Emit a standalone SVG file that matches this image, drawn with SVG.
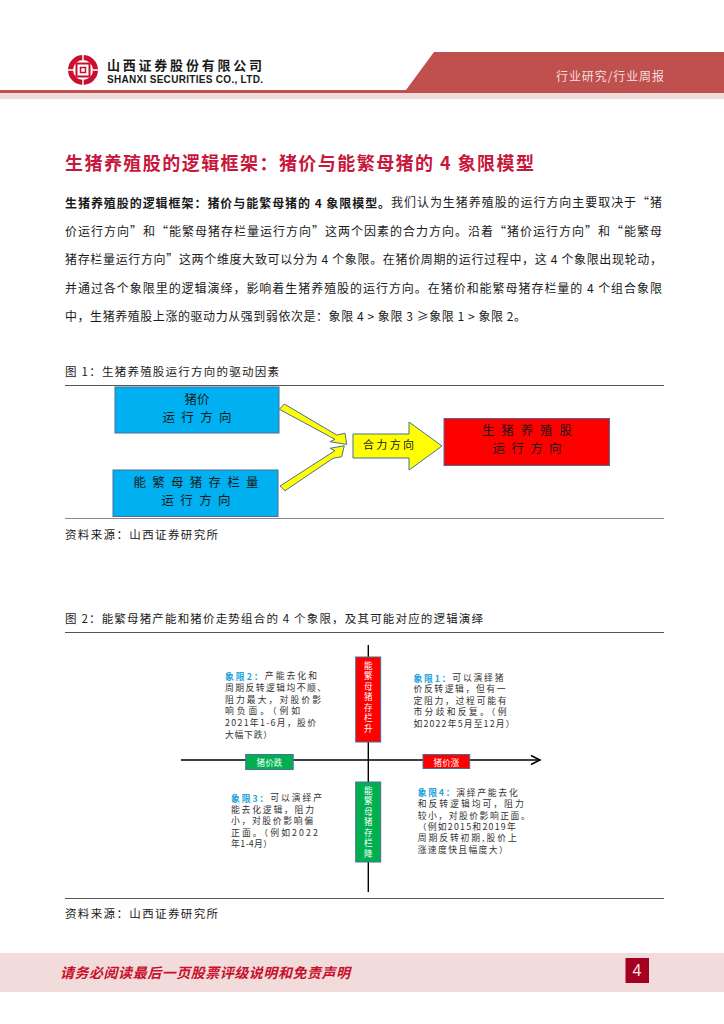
<svg xmlns="http://www.w3.org/2000/svg" width="724" height="1024" viewBox="0 0 724 1024">
<style>
text{font-family:"Noto Sans CJK SC","Liberation Sans",sans-serif;fill:#1a1a1a;dominant-baseline:central}
.body{font-size:12px}
.b{font-weight:700}
.cap{font-size:11.5px}
.q{font-size:8.8px;fill:#333}
.qh{fill:#1fa3dc;font-weight:700}
.box{stroke:#4a6f97;stroke-width:1}
.y{fill:#ff0;stroke:#4a6f97;stroke-width:1}
.rule{stroke:#555;stroke-width:1}
.big{font-size:12.500px;text-anchor:middle}
.w{fill:#fff;font-size:8.600px;text-anchor:middle}
.v{fill:#fff;font-size:8.600px;writing-mode:vertical-rl;text-orientation:upright}
.axis{stroke:#000;stroke-width:1.400;fill:none}
</style>
<defs><marker id="ah" markerUnits="userSpaceOnUse" markerWidth="12" markerHeight="12" refX="10" refY="6" orient="auto"><path d="M1 1.500L10 6L1 10.500" fill="none" stroke="#000" stroke-width="1.500"/></marker></defs>
<rect width="724" height="1024" fill="#fff"/>
<g id="header">
<rect x="0" y="93" width="724" height="6" fill="#f2dcdb"/>
<polygon points="434,52 724,52 724,93 0,93 0,90 406,90" fill="#c0504d"/>
<circle cx="83" cy="70" r="12.500" fill="none" stroke="#c8102e" stroke-width="5"/>
<path d="M83 54V60M83 80V86M67 70H73M93 70H99" stroke="#fff" stroke-width="1.500"/>
<rect x="76.500" y="63.500" width="13" height="13" fill="none" stroke="#c8102e" stroke-width="2"/>
<rect x="80.500" y="67.500" width="5" height="5" fill="none" stroke="#c8102e" stroke-width="1.500"/>
<text x="107" y="64.500" font-size="13" font-weight="700" textLength="155">山西证券股份有限公司</text>
<text x="107" y="79" font-size="10" style="font-family:'Liberation Sans',sans-serif" font-weight="700" textLength="156">SHANXI SECURITIES CO., LTD.</text>
<text x="556" y="75" font-size="12" style="fill:#f3dfde" textLength="108">行业研究/行业周报</text>
</g>
<text id="title" x="65" y="162" font-size="18" font-weight="700" style="fill:#c8173c" textLength="469">生猪养殖股的逻辑框架：猪价与能繁母猪的 4 象限模型</text>
<g id="body">
<text class="body" x="65" y="201.700" textLength="597"><tspan class="b">生猪养殖股的逻辑框架：猪价与能繁母猪的 4 象限模型。</tspan>我们认为生猪养殖股的运行方向主要取决于“猪</text>
<text class="body" x="65" y="230" textLength="597">价运行方向”和“能繁母猪存栏量运行方向”这两个因素的合力方向。沿着“猪价运行方向”和“能繁母</text>
<text class="body" x="65" y="258.600" textLength="597">猪存栏量运行方向”这两个维度大致可以分为 4 个象限。在猪价周期的运行过程中，这 4 个象限出现轮动，</text>
<text class="body" x="65" y="287" textLength="597">并通过各个象限里的逻辑演绎，影响着生猪养殖股的运行方向。在猪价和能繁母猪存栏量的 4 个组合象限</text>
<text class="body" x="65" y="315.500" textLength="461">中，生猪养殖股上涨的驱动力从强到弱依次是：象限 4 &gt; 象限 3 ≥象限 1 &gt; 象限 2。</text>
</g>
<g id="fig1">
<text class="cap" x="65" y="371" textLength="214">图 1：生猪养殖股运行方向的驱动因素</text>
<line class="rule" x1="65" y1="385.500" x2="664" y2="385.500"/>
<line x1="65" y1="518.500" x2="664" y2="518.500" stroke="#888"/>
<text class="cap" x="65" y="534" textLength="153">资料来源：山西证券研究所</text>
</g>
<g id="node-price"><rect class="box" x="115" y="387" width="164" height="46" fill="#00b0f0"/>
<text class="big" x="197" y="398">猪价</text><text class="big" x="197" y="416" textLength="69">运行方向</text></g>
<g id="node-sow"><rect class="box" x="113" y="470" width="165" height="46.500" fill="#00b0f0"/>
<text class="big" x="196" y="481" textLength="125">能繁母猪存栏量</text><text class="big" x="196" y="499" textLength="69">运行方向</text></g>
<g id="node-force"><polygon class="y" points="353,434 409,434 409,422 442,446 409,470 409,458 353,458"/>
<text x="363" y="444" font-size="11" textLength="51">合力方向</text></g>
<g id="node-stock"><rect class="box" x="444" y="418.500" width="165.500" height="47" fill="#f00"/>
<text class="big" x="527" y="429.500" textLength="90">生猪养殖股</text><text class="big" x="527" y="447.500" textLength="69">运行方向</text></g>
<g id="connectors1">
<polygon class="y" points="279.300,409.300 284.300,404 336.700,435 345,433.300 346.700,444.300 330,441.700 335,439.300"/>
<polygon class="y" points="280,486 285,490.700 333,458.300 341.700,456.700 344.300,445.700 330,448.300 335,450.700"/>
</g>
<g id="fig2">
<text class="cap" x="65" y="618" textLength="418">图 2：能繁母猪产能和猪价走势组合的 4 个象限，及其可能对应的逻辑演绎</text>
<line class="rule" x1="65" y1="632.500" x2="664" y2="632.500"/>
<line class="rule" x1="65" y1="898.500" x2="664" y2="898.500"/>
<text class="cap" x="65" y="913" textLength="153">资料来源：山西证券研究所</text>
</g>
<g id="connectors2">
<line class="axis" x1="181" y1="760" x2="540" y2="760" marker-end="url(#ah)"/>
<line class="axis" x1="368.300" y1="645" x2="368.300" y2="892"/>
</g>
<g id="node-sow-up"><rect class="box" x="355.700" y="657" width="25" height="85" fill="#f00"/>
<text class="v" x="368.300" y="661" textLength="72">能繁母猪存栏升</text></g>
<g id="node-sow-down"><rect class="box" x="355.700" y="782" width="25" height="80" fill="#00b050"/>
<text class="v" x="368.300" y="786" textLength="72">能繁母猪存栏降</text></g>
<g id="node-price-down"><rect class="box" x="245.700" y="754.500" width="47.500" height="15" fill="#00b050"/><text class="w" x="269.500" y="762">猪价跌</text></g>
<g id="node-price-up"><rect class="box" x="423" y="754.500" width="46.700" height="14" fill="#f00"/><text class="w" x="446.500" y="761.500">猪价涨</text></g>
<g id="q2">
<text class="q" x="225" y="675.700" textLength="92"><tspan class="qh">象限2：</tspan>产能去化和</text>
<text class="q" x="225" y="687.300" textLength="101">周期反转逻辑均不顺、</text>
<text class="q" x="225" y="699" textLength="96">阻力最大，对股价影</text>
<text class="q" x="225" y="710.700" textLength="75">响负面。（例如</text>
<text class="q" x="225" y="722.300" textLength="91">2021年1-6月，股价</text>
<text class="q" x="225" y="734" textLength="47">大幅下跌）</text>
</g>
<g id="q1">
<text class="q" x="413.500" y="677.700" textLength="90"><tspan class="qh">象限1：</tspan>可以演绎猪</text>
<text class="q" x="413.500" y="688.800" textLength="92">价反转逻辑，但有一</text>
<text class="q" x="413.500" y="700" textLength="93">定阻力，过程可能有</text>
<text class="q" x="413.500" y="711.700" textLength="93">市分歧和反复。（例</text>
<text class="q" x="413.500" y="723.300" textLength="101">如2022年5月至12月）</text>
</g>
<g id="q3">
<text class="q" x="231" y="797.700" textLength="91"><tspan class="qh">象限3：</tspan>可以演绎产</text>
<text class="q" x="231" y="809" textLength="83">能去化逻辑，阻力</text>
<text class="q" x="231" y="820.700" textLength="82">小，对股价影响偏</text>
<text class="q" x="231" y="832.300" textLength="87">正面。（例如2022</text>
<text class="q" x="231" y="843.300" textLength="41">年1-4月）</text>
</g>
<g id="q4">
<text class="q" x="417.700" y="792.300" textLength="100"><tspan class="qh">象限4：</tspan>演绎产能去化</text>
<text class="q" x="417.700" y="803.300" textLength="106">和反转逻辑均可，阻力</text>
<text class="q" x="417.700" y="815" textLength="112">较小，对股价影响正面。</text>
<text class="q" x="417.700" y="826" textLength="98">（例如2015和2019年</text>
<text class="q" x="417.700" y="837.700" textLength="99">周期反转初期,股价上</text>
<text class="q" x="417.700" y="849" textLength="90">涨速度快且幅度大）</text>
</g>
<g id="footer">
<rect x="0" y="953" width="724" height="39" fill="#f2dcdb"/>
<text x="60" y="972" font-size="14" font-weight="700" font-style="italic" style="fill:#c8102e" textLength="290">请务必阅读最后一页股票评级说明和免责声明</text>
<rect x="625.500" y="958" width="23.500" height="25" fill="#a50021"/>
<text x="637" y="970.500" font-size="16" text-anchor="middle" style="fill:#f5e6e6;font-family:'Liberation Sans',sans-serif">4</text>
</g>
</svg>
